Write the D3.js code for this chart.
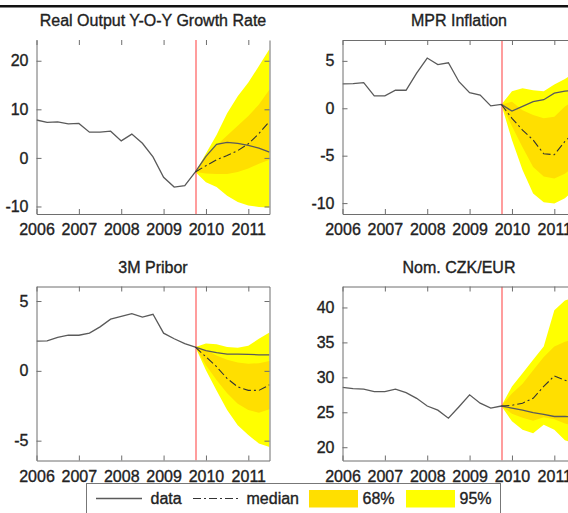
<!DOCTYPE html>
<html>
<head>
<meta charset="utf-8">
<script src="https://cdn.jsdelivr.net/npm/d3@7/dist/d3.min.js"></script>
<style>
  body { margin: 0; background: #fff; }
  svg text { font-family: "Liberation Sans", Arial, sans-serif; font-size: 16px; fill: #222; stroke: #222; stroke-width: 0.35px; }
</style>
</head>
<body>
<div id="chart"></div>
<script>
// quarterly dates, year + (quarter-1)/4
const histDates = [2006.00, 2006.25, 2006.50, 2006.75, 2007.00, 2007.25, 2007.50, 2007.75,
                   2008.00, 2008.25, 2008.50, 2008.75, 2009.00, 2009.25, 2009.50, 2009.75];
const fcstDates = [2009.75, 2010.00, 2010.25, 2010.50, 2010.75, 2011.00, 2011.25, 2011.50];
const yearTicks = [2006, 2007, 2008, 2009, 2010, 2011];
const forecastStart = 2009.75;

// Real Output Y-O-Y Growth Rate
const outputHist   = [7.8, 7.3, 7.4, 7.0, 7.1, 5.3, 5.3, 5.5, 3.5, 4.9, 3.0, 0.2, -4.0, -6.0, -5.7, -2.9];
const outputActual = [-2.9, 0.3, 2.8, 3.2, 3.0, 2.6, 2.0, 1.2];
const outputMedian = [-2.9, -1.6, -0.4, 0.5, 1.5, 2.9, 5.0, 7.5];
const outputHi95   = [-2.9, 0.9, 4.7, 9.2, 12.7, 15.5, 18.9, 22.4];
const outputLo95   = [-2.9, -5.0, -6.0, -7.8, -9.1, -9.8, -10.1, -10.2];
const outputHi68   = [-2.9, 0.3, 2.6, 4.6, 6.6, 8.6, 11.0, 14.1];
const outputLo68   = [-2.9, -3.2, -3.3, -3.3, -2.9, -2.2, -1.2, -0.4];
const outputTicks  = [-10, 0, 10, 20];

// MPR Inflation
const inflHist   = [2.57, 2.6, 2.7, 1.3, 1.3, 1.9, 1.9, 3.7, 5.3, 4.6, 4.8, 2.8, 1.65, 1.4, 0.25, 0.4];
const inflActual = [0.4, -0.3, 0.2, 0.7, 0.9, 1.6, 1.8, 1.9];
const inflMedian = [0.4, -1.06, -2.3, -3.35, -4.8, -4.9, -3.5, -2.4];
const inflHi95   = [0.4, 1.8, 2.1, 1.9, 1.8, 2.5, 3.1, 3.8];
const inflLo95   = [0.4, -3.35, -6.5, -9.0, -9.9, -10.05, -9.5, -8.5];
const inflHi68   = [0.4, 0.7, -0.2, -0.7, -1.06, -0.9, 0.2, 0.9];
const inflLo68   = [0.4, -1.9, -4.1, -6.2, -7.2, -7.4, -6.9, -6.0];
const inflTicks  = [-10, -5, 0, 5];

// 3M Pribor
const priborHist   = [2.13, 2.15, 2.4, 2.55, 2.55, 2.7, 3.15, 3.7, 3.9, 4.1, 3.85, 4.05, 2.7, 2.3, 1.95, 1.7];
const priborActual = [1.7, 1.45, 1.3, 1.2, 1.2, 1.18, 1.15, 1.15];
const priborMedian = [1.7, 1.0, 0.3, -0.55, -1.15, -1.4, -1.4, -1.0];
const priborHi95   = [1.7, 1.95, 1.9, 1.7, 1.65, 1.8, 2.3, 2.75];
const priborLo95   = [1.7, 0.05, -1.4, -2.8, -3.9, -4.6, -5.2, -5.45];
const priborHi68   = [1.7, 1.5, 1.1, 0.8, 0.6, 0.5, 0.55, 0.7];
const priborLo68   = [1.7, 0.4, -0.65, -1.6, -2.35, -2.8, -3.0, -2.75];
const priborTicks  = [-5, 0, 5];

// Nom. CZK/EUR
const czkHist   = [28.57, 28.4, 28.3, 27.95, 27.95, 28.3, 27.8, 27.0, 25.9, 25.3, 24.15, 25.8, 27.5, 26.3, 25.6, 25.9];
const czkActual = [25.9, 25.6, 25.3, 24.95, 24.7, 24.4, 24.4, 24.3];
const czkMedian = [25.9, 26.0, 26.3, 27.0, 28.7, 30.2, 29.6, 29.0];
const czkHi95   = [25.9, 28.7, 30.6, 32.5, 34.4, 39.6, 41.0, 41.5];
const czkLo95   = [25.9, 23.7, 22.5, 22.0, 23.2, 22.5, 21.0, 20.5];
const czkHi68   = [25.9, 27.7, 29.1, 31.0, 32.9, 34.4, 35.1, 35.5];
const czkLo68   = [25.9, 24.8, 24.2, 23.8, 24.3, 24.0, 23.4, 23.0];
const czkTicks  = [20, 25, 30, 35, 40];

const COLORS = { band95: '#FFFF00', band68: '#FFDF00', data: '#5a5a5a', median: '#333', red: '#FF5C5C', axis: '#6e6e6e' };

const panels = [
  { title: 'Real Output Y-O-Y Growth Rate', hist: outputHist, actual: outputActual, median: outputMedian,
    hi95: outputHi95, lo95: outputLo95, hi68: outputHi68, lo68: outputLo68, ticks: outputTicks,
    yDomain: [-11.55, 24.27], left: 36.5, top: 40, noTop: true },
  { title: 'MPR Inflation', hist: inflHist, actual: inflActual, median: inflMedian,
    hi95: inflHi95, lo95: inflLo95, hi68: inflHi68, lo68: inflLo68, ticks: inflTicks,
    yDomain: [-11.15, 7.2], left: 342.5, top: 40 },
  { title: '3M Pribor', hist: priborHist, actual: priborActual, median: priborMedian,
    hi95: priborHi95, lo95: priborLo95, hi68: priborHi68, lo68: priborLo68, ticks: priborTicks,
    yDomain: [-6.42, 6.04], left: 36.5, top: 286.5 },
  { title: 'Nom. CZK/EUR', hist: czkHist, actual: czkActual, median: czkMedian,
    hi95: czkHi95, lo95: czkLo95, hi68: czkHi68, lo68: czkLo68, ticks: czkTicks,
    yDomain: [18.1, 43.0], left: 342.5, top: 286.5 }
];

const W = 568, H = 513, PW = 233, PH = 174;

const svg = d3.select('#chart').append('svg').attr('width', W).attr('height', H);

svg.append('rect').attr('x', 0).attr('y', 5).attr('width', W).attr('height', 2.5).attr('fill', '#111');

panels.forEach(function(p, i) {
  const x = d3.scaleLinear().domain([2006, 2011.5]).range([0, PW]);
  const y = d3.scaleLinear().domain(p.yDomain).range([PH, 0]);
  const g = svg.append('g').attr('transform', 'translate(' + p.left + ',' + p.top + ')');

  g.append('text').attr('x', PW / 2).attr('y', -14).attr('text-anchor', 'middle').text(p.title);

  g.append('defs').append('clipPath').attr('id', 'clip' + i)
    .append('rect').attr('width', PW).attr('height', PH);
  const plot = g.append('g').attr('clip-path', 'url(#clip' + i + ')');

  const fc = fcstDates.map(function(t, k) {
    return { t: t, hi95: p.hi95[k], lo95: p.lo95[k], hi68: p.hi68[k], lo68: p.lo68[k], med: p.median[k], act: p.actual[k] };
  });

  plot.append('path').datum(fc).attr('fill', COLORS.band95)
    .attr('d', d3.area().x(function(d) { return x(d.t); }).y0(function(d) { return y(d.lo95); }).y1(function(d) { return y(d.hi95); }));
  plot.append('path').datum(fc).attr('fill', COLORS.band68)
    .attr('d', d3.area().x(function(d) { return x(d.t); }).y0(function(d) { return y(d.lo68); }).y1(function(d) { return y(d.hi68); }));

  const rx = Math.round(x(forecastStart)) + 0.5;
  plot.append('line').attr('x1', rx).attr('x2', rx)
    .attr('y1', 0).attr('y2', PH).attr('stroke', COLORS.red).attr('stroke-width', 1.2);

  const series = histDates.map(function(t, k) { return { t: t, v: p.hist[k] }; })
    .concat(fc.slice(1).map(function(d) { return { t: d.t, v: d.act }; }));
  const line = d3.line().x(function(d) { return x(d.t); }).y(function(d) { return y(d.v); });

  plot.append('path').datum(series).attr('fill', 'none').attr('stroke', COLORS.data).attr('stroke-width', 1.3).attr('d', line);
  plot.append('path').datum(fc.map(function(d) { return { t: d.t, v: d.med }; }))
    .attr('fill', 'none').attr('stroke', COLORS.median).attr('stroke-width', 1.1)
    .attr('stroke-dasharray', '8,3,2,3').attr('d', line);

  // axes, ticks inside like matlab
  const fmt = function(d) { return String(d); };
  const axB = g.append('g').attr('transform', 'translate(0,' + PH + ')')
    .call(d3.axisBottom(x).tickValues(yearTicks).tickFormat(fmt).tickSizeInner(-5).tickSizeOuter(0).tickPadding(10));
  const axT = g.append('g')
    .call(d3.axisTop(x).tickValues(yearTicks).tickFormat('').tickSizeInner(-5).tickSizeOuter(0));
  const axL = g.append('g')
    .call(d3.axisLeft(y).tickValues(p.ticks).tickFormat(fmt).tickSizeInner(-5).tickSizeOuter(0).tickPadding(8));
  const axR = g.append('g').attr('transform', 'translate(' + PW + ',0)')
    .call(d3.axisRight(y).tickValues(p.ticks).tickFormat('').tickSizeInner(-5).tickSizeOuter(0));

  [axB, axT, axL, axR].forEach(function(a) {
    a.selectAll('path.domain').attr('stroke', COLORS.axis);
    a.selectAll('.tick line').attr('stroke', COLORS.axis);
    a.selectAll('text').attr('font-size', null).attr('font-family', null).attr('fill', '#222');
  });
  if (p.noTop) axT.select('path.domain').remove();
});

// legend
const lg = svg.append('g');
lg.append('rect').attr('x', 86.5).attr('y', 483.5).attr('width', 414).attr('height', 40)
  .attr('fill', '#fff').attr('stroke', '#777');
lg.append('line').attr('x1', 96).attr('x2', 142).attr('y1', 498.5).attr('y2', 498.5)
  .attr('stroke', COLORS.data).attr('stroke-width', 1.3);
lg.append('text').attr('x', 150.5).attr('y', 504).text('data');
lg.append('line').attr('x1', 193).attr('x2', 240).attr('y1', 498.5).attr('y2', 498.5)
  .attr('stroke', COLORS.median).attr('stroke-width', 1.1).attr('stroke-dasharray', '8,3,2,3');
lg.append('text').attr('x', 246.5).attr('y', 504).text('median');
lg.append('rect').attr('x', 309).attr('y', 490).attr('width', 49).attr('height', 17.5).attr('fill', COLORS.band68);
lg.append('text').attr('x', 362.5).attr('y', 504).text('68%');
lg.append('rect').attr('x', 406).attr('y', 490).attr('width', 49).attr('height', 17.5).attr('fill', COLORS.band95);
lg.append('text').attr('x', 459.5).attr('y', 504).text('95%');
</script>
</body>
</html>
